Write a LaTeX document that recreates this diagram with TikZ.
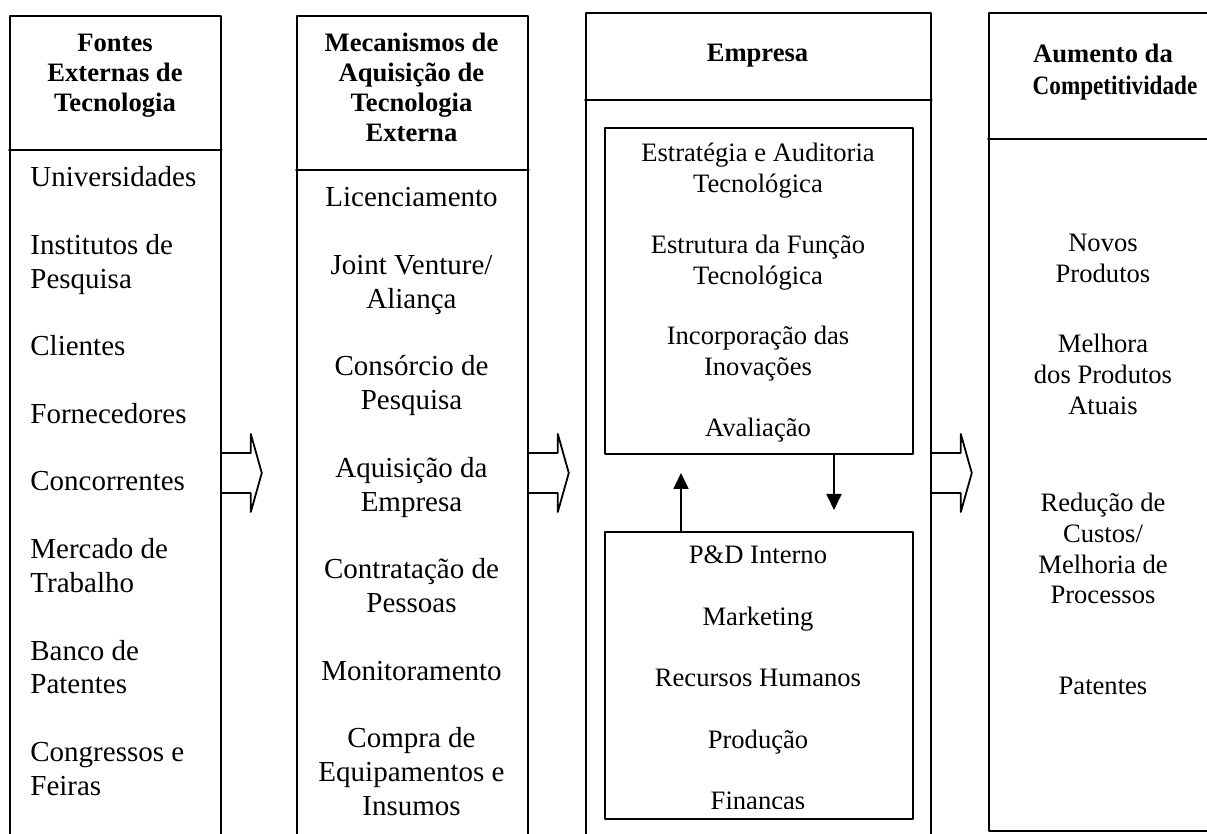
\documentclass[tikz,border=0pt]{standalone}
\usepackage{fontspec}
\setmainfont{Liberation Serif}
\usetikzlibrary{arrows.meta}

\begin{document}
\begin{tikzpicture}[line cap=round,line join=round,>={Triangle[length=8pt,width=7.5pt]},x=0.5pt,y=-0.5pt,
  column/.style={draw,line width=0.9pt,inner sep=0,anchor=north west},
  inbox/.style={draw,line width=0.9pt,inner sep=0,anchor=north west,minimum width=154pt},
  title/.style={font=\fontsize{13.3}{15}\selectfont\bfseries,align=flush center,text width=110pt,anchor=base,inner sep=0},
  biglist/.style={font=\fontsize{14.5}{16.9}\selectfont,text width=110pt,anchor=base,inner sep=0},
  smalllist/.style={font=\fontsize{13.3}{15.3}\selectfont,align=flush center,text width=150pt,anchor=base,inner sep=0},
  hollow/.style={line width=0.9pt},
  flow/.style={->,line width=0.9pt}]
\useasboundingbox (0,0) rectangle (1207,834);
\clip (0,0) rectangle (1207,834);
% the four columns
\node[column,minimum width=105.5pt,minimum height=415pt] (fontes) at (9,15) {};
\node[column,minimum width=115.5pt,minimum height=415pt] (mecanismos) at (296,15) {};
\node[column,minimum width=172.5pt,minimum height=417pt] (empresa) at (585,12) {};
\node[column,minimum width=116pt,minimum height=409pt] (aumento) at (988,12) {};
\draw[line width=0.9pt] (fontes.west |- 0,150) -- (fontes.east |- 0,150);
\draw[line width=0.9pt] (mecanismos.west |- 0,170) -- (mecanismos.east |- 0,170);
\draw[line width=0.9pt] (empresa.west |- 0,100) -- (empresa.east |- 0,100);
\draw[line width=0.9pt] (aumento.west |- 0,139) -- (aumento.east |- 0,139);
% headers
\node[title] (tfontes) at (115,52) {Fontes\\Externas de\\Tecnologia};
\node[title] (tmecanismos) at (411.5,52) {Mecanismos de\\Aquisição de\\Tecnologia\\Externa};
\node[title] (tempresa) at (757.5,62) {Empresa};
\node[title,font=\fontsize{13.3}{16}\selectfont\bfseries] (taumento) at (1103,63) {Aumento da\\\hspace*{12pt}\scalebox{0.87}[1]{Competitividade}};
% external sources
\foreach \y/\txt [count=\i] in {187/Universidades,255/{Institutos de\\Pesquisa},356/Clientes,
    423.6/Fornecedores,491/Concorrentes,558.8/{Mercado de\\Trabalho},660.2/{Banco de\\Patentes},
    761.6/{Congressos e\\Feiras}}
  \node[biglist,align=flush left,anchor=base west] (fonte\i) at (30,\y) {\txt};
% acquisition mechanisms
\foreach \y/\txt [count=\i] in {207/Licenciamento,274.6/{Joint Venture/\\Aliança},376/{Consórcio de\\Pesquisa},
    477.4/{Aquisição da\\Empresa},578.8/{Contratação de\\Pessoas},680.2/Monitoramento,
    747.8/{Compra de\\Equipamentos e\\Insumos}}
  \node[biglist,align=flush center] (mec\i) at (411.5,\y) {\txt};
% company
\node[inbox,minimum height=163pt] (estrategia) at (604,127) {};
\node[inbox,minimum height=143.5pt] (interno) at (604,531) {};
\foreach \y/\txt [count=\i] in {162/{Estratégia e Auditoria\\Tecnológica},254/{Estrutura da Função\\Tecnológica},
    345/{Incorporação das\\Inovações},437/Avaliação}
  \node[smalllist] (gestao\i) at (758,\y) {\txt};
\begin{scope}
\clip (604,531) rectangle (912,808);
\foreach \y/\txt [count=\i] in {564/P\&D Interno,625/Marketing,687/Recursos Humanos,748/Produção,810/Finanças}
  \node[smalllist] (area\i) at (758,\y) {\txt};
\end{scope}
\coordinate (sobe) at (681,473);
\coordinate (desce) at (834,510);
\draw[flow] (interno.north -| sobe) -- (sobe);
\draw[flow] (estrategia.south -| desce) -- (desce);
% competitiveness
\foreach \y/\txt [count=\i] in {252/{Novos\\Produtos},353/{Melhora\\dos Produtos\\Atuais},
    512/{Redução de\\Custos/\\Melhoria de\\Processos},695/Patentes}
  \node[smalllist,text width=105pt] (ganho\i) at (1103,\y) {\txt};
% hollow arrows between columns
\foreach \col in {fontes,mecanismos,empresa}
  \draw[hollow] (\col.east |- 0,453) -- ++(29,0) -- ++(0,-19) -- ++(11,39) -- ++(-11,39) -- ++(0,-19) -- (\col.east |- 0,493);
\end{tikzpicture}
\end{document}
